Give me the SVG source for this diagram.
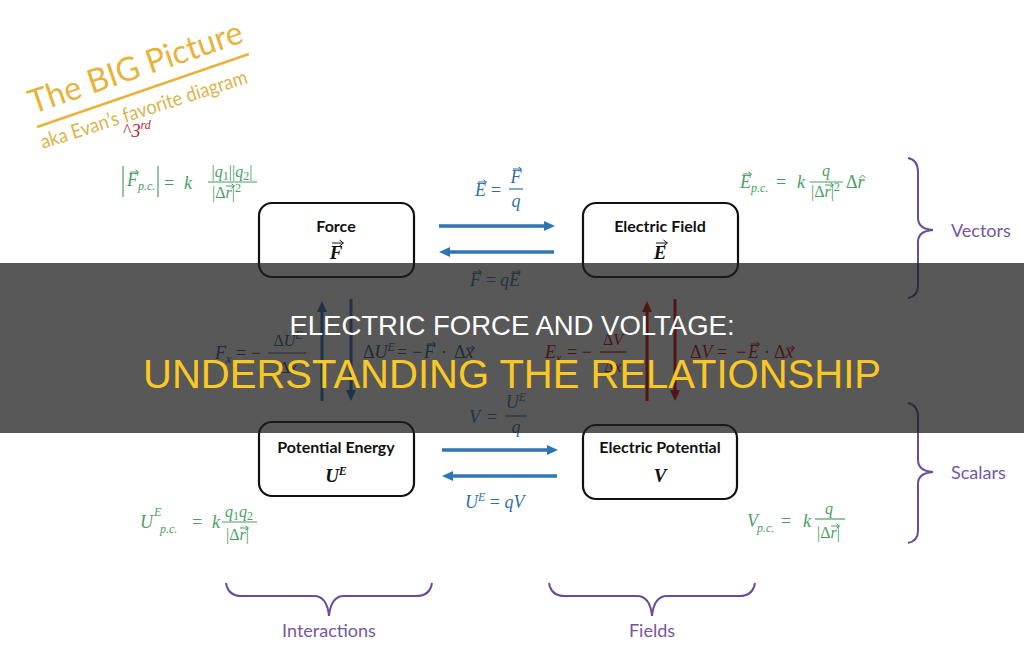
<svg xmlns="http://www.w3.org/2000/svg" width="1024" height="655" viewBox="0 0 1024 655">
<style>
.m{font-family:"Liberation Serif","DejaVu Serif",serif;font-style:italic;font-size:18px}
.f{font-size:16px}
.s{font-size:12px}
.n{font-style:normal}
.g{fill:#4a9e63}
.gl{stroke:#4a9e63;stroke-width:1.2}
.b{fill:#2f6fa7}
.bl{stroke:#2f6fa7;stroke-width:1.2}
.nv{fill:#2f4f7f}
.nvl{stroke:#2f4f7f;stroke-width:1.2}
.r{fill:#c00000}
.rl{stroke:#c00000;stroke-width:1.2}
.box{fill:#fff;stroke:#111;stroke-width:2.2}
.lbl{font-family:Lato,"Open Sans","Liberation Sans",sans-serif;font-weight:bold;font-size:16px;fill:#111;text-anchor:middle}
.sym{font-family:"Liberation Serif","DejaVu Serif",serif;font-weight:bold;font-style:italic;font-size:19px;fill:#111;text-anchor:middle}
.pur{font-family:Lato,"Open Sans",sans-serif;font-size:18px;fill:#7456a6}
.brace{fill:none;stroke:#6b4c9a;stroke-width:2}
.mid{text-anchor:middle}
.va{fill:none;stroke-width:1}
</style>
<defs>
<marker id="ab" markerUnits="userSpaceOnUse" markerWidth="11" markerHeight="10" refX="1" refY="5" orient="auto"><path d="M0,0 L11,5 L0,10 z" fill="#2e75b6"/></marker>
<marker id="an" markerUnits="userSpaceOnUse" markerWidth="11" markerHeight="10" refX="1" refY="5" orient="auto"><path d="M0,0 L11,5 L0,10 z" fill="#1f6fc0"/></marker>
<marker id="ar" markerUnits="userSpaceOnUse" markerWidth="11" markerHeight="10" refX="1" refY="5" orient="auto"><path d="M0,0 L11,5 L0,10 z" fill="#e00000"/></marker>
<path id="va" d="M0,0 H8 M5.5,-2.2 L8.5,0 L5.5,2.2"/>
<path id="vb" d="M0,0 H11 M7.5,-3 L11.5,0 L7.5,3"/>
</defs>
<rect width="1024" height="655" fill="#fff"/>

<!-- Title -->
<g id="title">
<text transform="translate(33,114) rotate(-18.8)" font-family="Lato,'Open Sans',sans-serif" font-size="33" fill="#e8b33a" textLength="224" lengthAdjust="spacingAndGlyphs">The BIG Picture</text>
<line x1="37" y1="127" x2="249" y2="54" stroke="#e8b33a" stroke-width="2.5"/>
<text transform="translate(43,149) rotate(-17.8)" font-family="Lato,'Open Sans',sans-serif" font-size="20" fill="#dbb44c" textLength="216" lengthAdjust="spacingAndGlyphs">aka Evan’s favorite diagram</text>
<text x="123" y="137" class="m" fill="#b5272d" font-size="17"><tspan class="n">^</tspan>3<tspan font-size="12" dy="-8">rd</tspan></text>
</g>

<!-- Connectors -->
<g id="connectors" fill="none">
<line x1="439" y1="226" x2="545" y2="226" stroke="#2e75b6" stroke-width="3.5" marker-end="url(#ab)"/>
<line x1="554" y1="252" x2="449" y2="252" stroke="#2e75b6" stroke-width="3.5" marker-end="url(#ab)"/>
<line x1="442" y1="450" x2="548" y2="450" stroke="#2e75b6" stroke-width="3.5" marker-end="url(#ab)"/>
<line x1="557" y1="476" x2="452" y2="476" stroke="#2e75b6" stroke-width="3.5" marker-end="url(#ab)"/>
<line x1="322" y1="401" x2="322" y2="311" stroke="#1f6fc0" stroke-width="3" marker-end="url(#an)"/>
<line x1="351" y1="299" x2="351" y2="391" stroke="#1f6fc0" stroke-width="3" marker-end="url(#an)"/>
<line x1="647" y1="401" x2="647" y2="311" stroke="#e00000" stroke-width="3" marker-end="url(#ar)"/>
<line x1="675" y1="299" x2="675" y2="391" stroke="#e00000" stroke-width="3" marker-end="url(#ar)"/>
</g>

<!-- Nodes -->
<g id="force"><rect class="box" x="259" y="203" width="155" height="74" rx="13"/><text class="lbl" x="336" y="232">Force</text><text class="sym" x="336" y="259">F</text><use href="#vb" x="332" y="243" class="va" stroke="#111" stroke-width="1.6"/></g>
<g id="efield"><rect class="box" x="583" y="203" width="155" height="74" rx="13"/><text class="lbl" x="660" y="232">Electric Field</text><text class="sym" x="660" y="259">E</text><use href="#vb" x="656" y="243" class="va" stroke="#111" stroke-width="1.6"/></g>
<g id="penergy"><rect class="box" x="259" y="422" width="155" height="74" rx="13"/><text class="lbl" x="336" y="453">Potential Energy</text><text class="sym" x="336" y="482">U<tspan font-size="12" dy="-7">E</tspan></text></g>
<g id="epotential"><rect class="box" x="583" y="425" width="154" height="74" rx="13"/><text class="lbl" x="660" y="453">Electric Potential</text><text class="sym" x="660" y="482">V</text></g>

<!-- Formulas: green point-charge -->
<g id="f-tl">
<line class="gl" x1="123" y1="166" x2="123" y2="197" stroke-width="1.6"/>
<line class="gl" x1="158" y1="166" x2="158" y2="197" stroke-width="1.6"/>
<text class="m g" x="127" y="186">F</text>
<use href="#va" x="130" y="172" class="va" stroke="#4a9e63"/>
<text class="m g s" x="138" y="190">p.c.</text>
<text class="m g n" x="164" y="189">=</text>
<text class="m g" x="184" y="189">k</text>
<text class="m g f mid" x="232" y="177"><tspan class="n">|</tspan>q<tspan class="s n" dy="3">1</tspan><tspan class="n" dy="-3">||</tspan>q<tspan class="s n" dy="3">2</tspan><tspan class="n" dy="-3">|</tspan></text>
<line class="gl" x1="208" y1="182" x2="257" y2="182"/>
<text class="m g f" x="212" y="198"><tspan class="n">|Δ</tspan>r<tspan class="n">|</tspan><tspan class="s n" dy="-6">2</tspan></text>
<use href="#va" x="226" y="186" class="va" stroke="#4a9e63"/>
</g>
<g id="f-tr">
<text class="m g" x="740" y="188">E</text>
<use href="#va" x="743" y="174" class="va" stroke="#4a9e63"/>
<text class="m g s" x="751" y="192">p.c.</text>
<text class="m g n" x="776" y="188">=</text>
<text class="m g" x="797" y="188">k</text>
<text class="m g f mid" x="826" y="176">q</text>
<line class="gl" x1="810" y1="182" x2="843" y2="182"/>
<text class="m g f" x="811" y="197"><tspan class="n">|Δ</tspan>r<tspan class="n">|</tspan><tspan class="s n" dy="-6">2</tspan></text>
<use href="#va" x="825" y="185" class="va" stroke="#4a9e63"/>
<text class="m g" x="846" y="188"><tspan class="n">Δ</tspan>r</text>
<path d="M859.5,178 L862.5,175 L865.5,178" fill="none" stroke="#4a9e63" stroke-width="1"/>
</g>
<g id="f-bl">
<text class="m g" x="140" y="528">U</text>
<text class="m g s" x="154" y="516">E</text>
<text class="m g s" x="160" y="533">p.c.</text>
<text class="m g n" x="192" y="528">=</text>
<text class="m g" x="212" y="528">k</text>
<text class="m g f mid" x="239" y="517">q<tspan class="s n" dy="3">1</tspan><tspan dy="-3">q</tspan><tspan class="s n" dy="3">2</tspan></text>
<line class="gl" x1="222" y1="522" x2="257" y2="522"/>
<text class="m g f" x="226" y="540"><tspan class="n">|Δ</tspan>r<tspan class="n">|</tspan></text>
<use href="#va" x="240" y="528" class="va" stroke="#4a9e63"/>
</g>
<g id="f-br">
<text class="m g" x="747" y="527">V</text>
<text class="m g s" x="757" y="532">p.c.</text>
<text class="m g n" x="781" y="527">=</text>
<text class="m g" x="803" y="527">k</text>
<text class="m g f mid" x="829" y="514">q</text>
<line class="gl" x1="815" y1="519" x2="845" y2="519"/>
<text class="m g f" x="817" y="538"><tspan class="n">|Δ</tspan>r<tspan class="n">|</tspan></text>
<use href="#va" x="831" y="526" class="va" stroke="#4a9e63"/>
</g>

<!-- Blue formulas on arrows -->
<g id="f-ef">
<text class="m b" x="475" y="196">E</text>
<use href="#va" x="478" y="182" class="va" stroke="#2f6fa7"/>
<text class="m b n" x="491" y="196">=</text>
<text class="m b mid" x="516" y="183">F</text>
<use href="#va" x="513" y="169" class="va" stroke="#2f6fa7"/>
<line class="bl" x1="509" y1="189" x2="523" y2="189"/>
<text class="m b mid" x="516" y="207">q</text>
<text class="m b" x="470" y="286">F</text>
<use href="#va" x="473" y="272" class="va" stroke="#2f6fa7"/>
<text class="m b n" x="486" y="286">=</text>
<text class="m b" x="500" y="286">qE</text>
<use href="#va" x="512" y="272" class="va" stroke="#2f6fa7"/>
</g>
<g id="f-vu">
<text class="m b" x="469" y="423">V</text>
<text class="m b n" x="487" y="423">=</text>
<text class="m b mid" x="516" y="408">U<tspan class="s" dy="-7">E</tspan></text>
<line class="bl" x1="505" y1="416" x2="527" y2="416"/>
<text class="m b mid" x="516" y="433">q</text>
<text class="m b" x="465" y="508">U<tspan class="s" dy="-7">E</tspan><tspan dy="7"> </tspan><tspan class="n">=</tspan> qV</text>
</g>

<!-- Vertical relation formulas -->
<g id="f-ml">
<text class="m nv" x="215" y="359">F<tspan class="s" dy="4">x</tspan></text>
<text class="m nv n" x="236" y="359">= −</text>
<text class="m nv f mid" x="288" y="346"><tspan class="n">Δ</tspan>U<tspan class="s" dy="-7">E</tspan></text>
<line class="nvl" x1="268" y1="353" x2="306" y2="353"/>
<text class="m nv f mid" x="288" y="373"><tspan class="n">Δ</tspan>x</text>
<text class="m nv" x="363" y="358"><tspan class="n">Δ</tspan>U<tspan class="s" dy="-7">E</tspan></text>
<text class="m nv n" x="397" y="358">=</text>
<text class="m nv n" x="412" y="358">−</text>
<text class="m nv" x="424" y="358">F</text>
<use href="#va" x="427" y="344" class="va" stroke="#2f4f7f"/>
<text class="m nv n" x="441" y="358">·</text>
<text class="m nv" x="454" y="358"><tspan class="n">Δ</tspan>x</text>
<use href="#va" x="466" y="348" class="va" stroke="#2f4f7f"/>
</g>
<g id="f-mr">
<text class="m r" x="545" y="358">E<tspan class="s" dy="4">x</tspan></text>
<text class="m r n" x="567" y="358">= −</text>
<text class="m r f mid" x="613" y="345"><tspan class="n">Δ</tspan>V</text>
<line class="rl" x1="600" y1="352" x2="626" y2="352"/>
<text class="m r f mid" x="613" y="372"><tspan class="n">Δ</tspan>x</text>
<text class="m r" x="690" y="358"><tspan class="n">Δ</tspan>V</text>
<text class="m r n" x="717" y="358">=</text>
<text class="m r n" x="736" y="358">−</text>
<text class="m r" x="748" y="358">E</text>
<use href="#va" x="751" y="344" class="va" stroke="#c00000"/>
<text class="m r n" x="764" y="358">·</text>
<text class="m r" x="774" y="358"><tspan class="n">Δ</tspan>x</text>
<use href="#va" x="786" y="348" class="va" stroke="#c00000"/>
</g>

<!-- Braces -->
<g id="braces">
<path class="brace" d="M908,158 Q918,160 918,172 L918,218 Q918,229 933,230 Q918,231 918,242 L918,286 Q918,296 908,298"/>
<path class="brace" d="M908,403 Q918,405 918,417 L918,460 Q918,471 933,472 Q918,473 918,484 L918,531 Q918,541 908,543"/>
<path class="brace" d="M226,583 Q228,596 242,596 L314,596 Q327,596 329,616 Q331,596 344,596 L416,596 Q430,596 432,583"/>
<path class="brace" d="M549,583 Q551,596 565,596 L637,596 Q650,596 652,616 Q654,596 667,596 L739,596 Q753,596 755,583"/>
<text class="pur" x="951" y="237">Vectors</text>
<text class="pur" x="951" y="479">Scalars</text>
<text class="pur mid" x="329" y="637">Interactions</text>
<text class="pur mid" x="652" y="637">Fields</text>
</g>

<!-- Banner overlay -->
<rect x="0" y="263" width="1024" height="170" fill="#1e1e1e" opacity="0.74"/>
<text x="512" y="335" text-anchor="middle" font-family="'Liberation Sans',Arial,sans-serif" font-size="27.5" fill="#fff">ELECTRIC FORCE AND VOLTAGE:</text>
<text x="512" y="388" text-anchor="middle" font-family="'Liberation Sans',Arial,sans-serif" font-size="40" fill="#f9c823">UNDERSTANDING THE RELATIONSHIP</text>
</svg>
